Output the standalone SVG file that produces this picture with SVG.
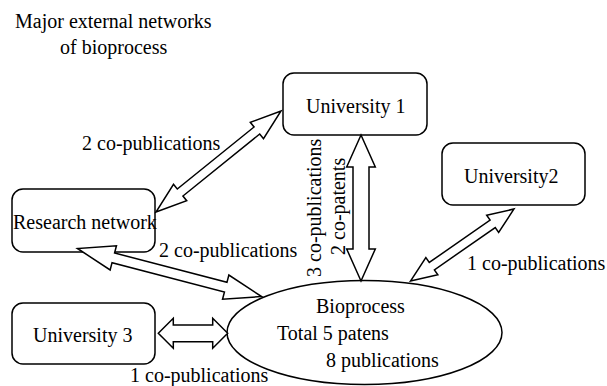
<svg xmlns="http://www.w3.org/2000/svg" width="607" height="386" viewBox="0 0 607 386">
<style>
.box{fill:#fff;stroke:#000;stroke-width:1.5}
.arr{fill:#fff;stroke:#000;stroke-width:1.5;stroke-linejoin:miter}
</style>
<rect width="607" height="386" fill="#fff"/>
<g font-family="Liberation Serif" font-size="20">
<g id="title">
<text x="15" y="28">Major external networks</text>
<text x="60" y="54">of bioprocess</text>
</g>
<g id="university1">
<rect class="box" x="283" y="73" width="144" height="62" rx="11"/>
<text x="306" y="113">University 1</text>
</g>
<g id="university2">
<rect class="box" x="442" y="143" width="143" height="62" rx="11"/>
<text x="464" y="183">University2</text>
</g>
<g id="research-network">
<rect class="box" x="12" y="189" width="143" height="63" rx="11"/>
</g>
<g id="university3">
<rect class="box" x="12" y="303" width="143" height="61" rx="11"/>
<text x="33" y="342">University 3</text>
</g>
<g id="bioprocess">
<ellipse class="box" cx="364.5" cy="332.5" rx="137.5" ry="52"/>
<text x="316" y="313">Bioprocess</text>
<text x="277" y="340">Total 5 patens</text>
<text x="326" y="367">8 publications</text>
</g>
<g id="connectors">
<polygon class="arr" points="156,212 186.71,200.69 182.94,196.02 259.72,133.98 263.49,138.65 281,111 250.29,122.31 254.06,126.98 177.28,189.02 173.51,184.35"/>
<polygon class="arr" points="77.5,248.5 110.15,269.94 112.04,262.68 224.44,292 222.55,299.26 261.5,296.5 228.86,275.07 226.96,282.32 114.56,253 116.46,245.75"/>
<polygon class="arr" points="410.5,281 437.84,274.77 434.41,269.84 495.23,227.54 498.66,232.47 514,209 486.66,215.23 490.09,220.16 429.27,262.46 425.84,257.53"/>
<polygon class="arr" points="361,135 375.3,167 369,167 369,249 375.3,249 361,281 346.7,249 353,249 353,167 346.7,167"/>
<polygon class="arr" points="158.3,333.3 173.3,318.3 173.3,325 212.7,325 212.7,318.3 227.7,333.3 212.7,348.3 212.7,341.7 173.3,341.7 173.3,348.3"/>
<text x="82" y="150">2 co-publications</text>
<text x="159" y="257">2 co-publications</text>
<text x="467" y="270">1 co-publications</text>
<text x="130" y="382">1 co-publications</text>
<text transform="translate(321,277) rotate(-90)">3 co-publications</text>
<text transform="translate(345,255) rotate(-90)">2 co-patents</text>
</g>
<g id="research-network-label">
<text x="13" y="229">Research network</text>
</g>
</g>
</svg>
